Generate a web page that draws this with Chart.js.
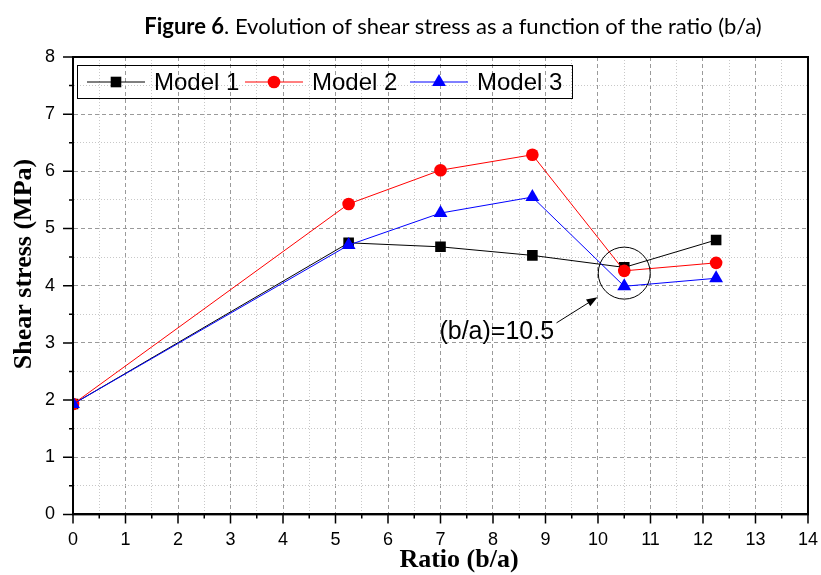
<!DOCTYPE html>
<html>
<head>
<meta charset="utf-8">
<script src="https://cdn.jsdelivr.net/npm/chart.js@4.4.0/dist/chart.umd.min.js"></script>
<style>
    body { margin: 0; background: #fff; }
    #wrap { position: relative; width: 821px; height: 575px; }
    #fig-title {
        position: absolute; left: 0; top: 12px; width: 906px; text-align: center;
        font-family: Lato, "Open Sans", sans-serif; font-size: 22px; color: #000;
    }
    canvas { position: absolute; left: 0; top: 0; }
</style>
</head>
<body>
<div id="wrap">
    <canvas id="shearChart" width="821" height="575"></canvas>
    <div id="fig-title"><b>Figure 6</b>. Evolution of shear stress as a function of the ratio (b/a)</div>
</div>
<script>
// --- DATA ---
const ratios = [0, 5.25, 7, 8.75, 10.5, 12.25];
const model1 = [1.93, 4.75, 4.68, 4.53, 4.32, 4.80];
const model2 = [1.93, 5.43, 6.02, 6.29, 4.26, 4.40];
const model3 = [1.93, 4.71, 5.27, 5.55, 3.99, 4.13];
const seriesNames = ['Model 1', 'Model 2', 'Model 3'];
const seriesColors = ['#000000', '#ff0000', '#0000ff'];
const xTicks = [0, 1, 2, 3, 4, 5, 6, 7, 8, 9, 10, 11, 12, 13, 14];
const yTicks = [0, 1, 2, 3, 4, 5, 6, 7, 8];

// annotation around b/a = 10.5
const noteText = '(b/a)=10.5';
const noteCircle = { x: 10.5, y: 4.22 };
const noteArrow = { from: { x: 9.21, y: 3.35 }, to: { x: 9.99, y: 3.80 } };
const noteLabel = { x: 6.98, y: 3.07 };

const toPoints = (ys) => ratios.map((x, i) => ({ x: x, y: ys[i] }));

// --- MARKERS ---
function drawMarker(ctx, style, x, y, r, color) {
    ctx.save();
    ctx.fillStyle = color;
    ctx.beginPath();
    if (style === 'rect') {
        const s = r * Math.SQRT1_2;
        ctx.rect(x - s, y - s, 2 * s, 2 * s);
    } else if (style === 'circle') {
        ctx.arc(x, y, r, 0, Math.PI * 2);
    } else {
        ctx.moveTo(x, y - r);
        ctx.lineTo(x + Math.sin(2 * Math.PI / 3) * r, y - Math.cos(2 * Math.PI / 3) * r);
        ctx.lineTo(x + Math.sin(4 * Math.PI / 3) * r, y - Math.cos(4 * Math.PI / 3) * r);
        ctx.closePath();
    }
    ctx.fill();
    ctx.restore();
}

// --- PLUGIN: frame, ticks, axis titles, legend, annotation ---
const decorPlugin = {
    id: 'decor',
    afterDraw(chart) {
        const { ctx, chartArea: a, scales: { x, y } } = chart;
        ctx.save();

        // frame
        ctx.strokeStyle = '#000';
        ctx.lineWidth = 2;
        ctx.strokeRect(a.left, a.top, a.right - a.left, a.bottom - a.top);

        // outward tick marks (major + minor)
        ctx.lineWidth = 1.5;
        ctx.beginPath();
        x.ticks.forEach(t => {
            const px = x.getPixelForValue(t.value);
            const len = Number.isInteger(t.value) ? 9 : 4;
            ctx.moveTo(px, a.bottom);
            ctx.lineTo(px, a.bottom + len);
        });
        y.ticks.forEach(t => {
            const py = y.getPixelForValue(t.value);
            const len = Number.isInteger(t.value) ? 10 : 4;
            ctx.moveTo(a.left, py);
            ctx.lineTo(a.left - len, py);
        });
        ctx.stroke();

        // axis titles
        ctx.fillStyle = '#000';
        ctx.font = 'bold 26px "Liberation Serif", "Times New Roman", serif';
        ctx.textAlign = 'center';
        ctx.textBaseline = 'middle';
        ctx.fillText('Ratio (b/a)', 459, 560);
        ctx.save();
        ctx.translate(24, 264);
        ctx.rotate(-Math.PI / 2);
        ctx.fillText('Shear stress (MPa)', 0, 0);
        ctx.restore();

        // legend box
        ctx.lineWidth = 1;
        ctx.strokeStyle = '#000';
        ctx.strokeRect(77.5, 65.5, 495, 33);
        const legendX = [87, 245, 410];
        ctx.font = '24px "Liberation Sans", Arial, sans-serif';
        ctx.textAlign = 'left';
        chart.data.datasets.forEach((ds, i) => {
            const lx = legendX[i];
            const ly = 82;
            ctx.strokeStyle = ds.borderColor;
            ctx.lineWidth = 1;
            ctx.beginPath();
            ctx.moveTo(lx, ly);
            ctx.lineTo(lx + 58, ly);
            ctx.stroke();
            drawMarker(ctx, ds.pointStyle, lx + 29, ly, ds.pointRadius, ds.borderColor);
            ctx.fillStyle = '#000';
            ctx.fillText(ds.label, lx + 67, ly + 1);
        });

        // annotation
        ctx.strokeStyle = '#000';
        ctx.lineWidth = 1;
        ctx.beginPath();
        ctx.arc(x.getPixelForValue(noteCircle.x), y.getPixelForValue(noteCircle.y), 26, 0, Math.PI * 2);
        ctx.stroke();

        const x1 = x.getPixelForValue(noteArrow.from.x), y1 = y.getPixelForValue(noteArrow.from.y);
        const x2 = x.getPixelForValue(noteArrow.to.x), y2 = y.getPixelForValue(noteArrow.to.y);
        const ang = Math.atan2(y2 - y1, x2 - x1);
        ctx.beginPath();
        ctx.moveTo(x1, y1);
        ctx.lineTo(x2 - Math.cos(ang) * 8, y2 - Math.sin(ang) * 8);
        ctx.stroke();
        ctx.fillStyle = '#000';
        ctx.beginPath();
        ctx.moveTo(x2, y2);
        ctx.lineTo(x2 - Math.cos(ang) * 11 + Math.sin(ang) * 4, y2 - Math.sin(ang) * 11 - Math.cos(ang) * 4);
        ctx.lineTo(x2 - Math.cos(ang) * 11 - Math.sin(ang) * 4, y2 - Math.sin(ang) * 11 + Math.cos(ang) * 4);
        ctx.closePath();
        ctx.fill();

        ctx.font = '25px "Liberation Sans", Arial, sans-serif';
        ctx.textBaseline = 'alphabetic';
        ctx.fillText(noteText, x.getPixelForValue(noteLabel.x), y.getPixelForValue(noteLabel.y));

        ctx.restore();
    }
};

// --- GRID STYLE HELPERS ---
const isMajor = (c) => c.tick && Number.isInteger(c.tick.value);
const gridColor = (c) => isMajor(c) ? '#9a9a9a' : '#c8c8c8';
const gridDash = (c) => isMajor(c) ? [4, 3] : [1, 2];

const tickFont = { family: '"Liberation Sans", Arial, sans-serif', size: 18 };

new Chart(document.getElementById('shearChart').getContext('2d'), {
    type: 'line',
    data: {
        datasets: [
            { label: seriesNames[0], data: toPoints(model1), borderColor: seriesColors[0], backgroundColor: seriesColors[0],
              pointStyle: 'rect', pointRadius: 7.5, order: 3 },
            { label: seriesNames[1], data: toPoints(model2), borderColor: seriesColors[1], backgroundColor: seriesColors[1],
              pointStyle: 'circle', pointRadius: 6.3, order: 2 },
            { label: seriesNames[2], data: toPoints(model3), borderColor: seriesColors[2], backgroundColor: seriesColors[2],
              pointStyle: 'triangle', pointRadius: 8, order: 1 }
        ]
    },
    options: {
        responsive: false,
        animation: false,
        layout: { padding: { top: 57, right: 0, left: 39, bottom: 21 } },
        elements: {
            line: { borderWidth: 1, tension: 0 },
            point: { borderWidth: 0, hoverRadius: 8 }
        },
        scales: {
            x: {
                type: 'linear',
                min: xTicks[0],
                max: xTicks[xTicks.length - 1],
                ticks: {
                    stepSize: 0.5,
                    autoSkip: false,
                    maxRotation: 0,
                    padding: 3,
                    color: '#000',
                    font: tickFont,
                    callback: (v) => xTicks.includes(v) ? v : ''
                },
                grid: { color: gridColor, drawTicks: true, tickLength: 12, tickColor: 'rgba(0,0,0,0)', lineWidth: 1 },
                border: { display: true, color: '#000', width: 2, dash: gridDash }
            },
            y: {
                type: 'linear',
                min: yTicks[0],
                max: yTicks[yTicks.length - 1],
                ticks: {
                    stepSize: 0.5,
                    autoSkip: false,
                    padding: 6,
                    color: '#000',
                    font: tickFont,
                    callback: (v) => yTicks.includes(v) ? v : ''
                },
                grid: { color: gridColor, drawTicks: true, tickLength: 12, tickColor: 'rgba(0,0,0,0)', lineWidth: 1 },
                border: { display: true, color: '#000', width: 2, dash: gridDash }
            }
        },
        plugins: {
            legend: { display: false },
            tooltip: { enabled: false }
        }
    },
    plugins: [decorPlugin]
});
</script>
</body>
</html>
